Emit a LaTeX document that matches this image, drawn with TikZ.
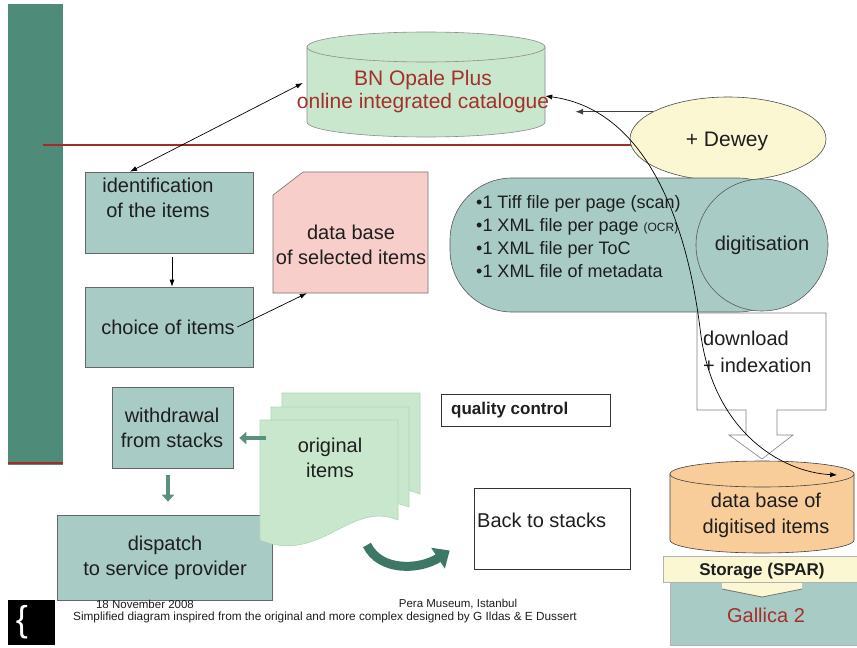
\documentclass[tikz,border=0pt]{standalone}
\usepackage{fontspec}
\setmainfont{Liberation Sans}
\usetikzlibrary{shapes.geometric,arrows.meta,calc}
\definecolor{barc}{HTML}{4F8B79}
\definecolor{tealbox}{HTML}{A8CBC5}
\definecolor{lgreen}{HTML}{C9E7CD}
\definecolor{docedge}{HTML}{B2D6B6}
\definecolor{pinkc}{HTML}{F7CEC9}
\definecolor{yel}{HTML}{FBF7D3}
\definecolor{orng}{HTML}{F9CD9A}
\definecolor{dred}{HTML}{A2302B}
\definecolor{rline}{HTML}{A52A2A}
\definecolor{darkt}{HTML}{3D7866}
\definecolor{blockc}{HTML}{5B8F80}
\definecolor{txtc}{HTML}{1E1E1E}
\newcommand\fsz[2]{\fontsize{#1}{#2}\selectfont}
\newcommand\drawcyl[7]{%
 \filldraw[fill=#6, draw=#7, line width=0.6pt] ({#1-#4},#2) -- ({#1-#4},#3) .. controls ({#1-#4},{#3+0.5523*#5}) and ({#1-0.5523*#4},{#3+#5}) .. (#1,{#3+#5}) .. controls ({#1+0.5523*#4},{#3+#5}) and ({#1+#4},{#3+0.5523*#5}) .. ({#1+#4},#3) -- ({#1+#4},#2) -- cycle;
 \filldraw[fill=#6, draw=#7, line width=0.6pt] (#1,#2) ellipse ({#4} and {#5});}
\begin{document}
\begin{tikzpicture}[x=1pt,y=-1pt,
  box/.style={draw=black!60, fill=tealbox, line width=0.6pt, inner sep=0pt},
  hold/.style={draw=none, inner sep=0pt},
  txt/.style={text=txtc, font=\fsz{20}{25}, align=center, inner sep=0pt},
  arr/.style={-{Latex[length=7pt,width=5pt]}, line width=0.7pt, black},
  darr/.style={{Latex[length=7pt,width=5pt]}-{Latex[length=7pt,width=5pt]}, line width=0.7pt, black},
  blockarr/.style={-{Triangle[length=7pt,width=12pt]}, line width=4pt, blockc},
  docst/.style={fill=lgreen, draw=docedge, line width=0.6pt}]
\useasboundingbox (0,0) rectangle (857,648);
\fill[white] (0,0) rectangle (857,648);

% left bar and red rules
\fill[barc] (8,4) rectangle (63,465);
\draw[rline, line width=1.2pt] (8,463) -- (63,463);
\draw[rline, line width=1.2pt] (43,145) -- (640,145);

% catalogue cylinder
\drawcyl{426}{47}{122}{119}{15}{lgreen}{black!45}
\node[hold, minimum width=238pt, minimum height=105pt] (cat) at (426,90) {};
\node[txt, text=dred, font=\fsz{21}{23}] (catt) at (423,91.5) {BN Opale Plus\\online integrated catalogue};

% Dewey
\node[ellipse, draw=black!70, fill=yel, line width=0.6pt, minimum width=196pt, minimum height=84pt, inner sep=0pt] (dewey) at (728,139) {};
\node[txt, font=\fsz{21}{25}] (deweyt) at (727,141) {+ Dewey};

% identification / choice
\node[box, minimum width=168pt, minimum height=81pt] (id) at (169,212.5) {};
\node[txt] (idt) at (158,197.5) {identification\\of the items};
\node[box, minimum width=168pt, minimum height=80pt] (choice) at (169,327) {};
\node[txt] (choicet) at (168,327) {choice of items};

% data base of selected items
\filldraw[fill=pinkc, draw=black!55, line width=0.6pt] (273,195) -- (303,172) -- (428,172) -- (428,293) -- (273,293) -- cycle;
\node[hold, minimum width=155pt, minimum height=121pt] (seldb) at (350.5,232.5) {};
\node[txt] (seldbt) at (351,244.5) {data base\\of selected items};

% digitisation
\node[draw=black!65, fill=tealbox, line width=0.6pt, rounded corners=62pt, minimum width=350pt, minimum height=134pt, inner sep=0pt] (digbox) at (625,245) {};
\node[circle, draw=black!65, fill=tealbox, line width=0.6pt, minimum size=132pt, inner sep=0pt] (dig) at (762,245) {};
\node[txt] (digt) at (762,245) {digitisation};
\node[txt, anchor=west, align=left, font=\fsz{18}{23}] (bul) at (476,237) {•1 Tiff file per page (scan)\\•1 XML file per page {\fsz{12}{23}(OCR)}\\•1 XML file per ToC\\•1 XML file of metadata};

% download + indexation block arrow
\filldraw[fill=white, draw=black!50, line width=0.6pt] (697,313) -- (826,313) -- (826,410) -- (777,410) -- (777,435) -- (793,435) -- (762,459) -- (729,435) -- (746,435) -- (746,410) -- (697,410) -- cycle;
\node[hold, minimum width=129pt, minimum height=97pt] (dl) at (761.5,361.5) {};
\node[txt, anchor=west, align=left, font=\fsz{20}{27}] (dlt) at (703,351.5) {download\\+ indexation};

% data base of digitised items
\drawcyl{762}{474}{540}{92}{13}{orng}{black!75}
\node[hold, minimum width=184pt, minimum height=92pt] (dbd) at (762,507) {};
\node[txt, font=\fsz{20}{26}] (dbdt) at (766,515) {data base of\\digitised items};

% storage and Gallica
\node[draw=black!30, fill=tealbox, minimum width=187pt, minimum height=63pt, inner sep=0pt] (gal) at (763.5,613.5) {};
\fill[yel] (722,582) -- (802,582) -- (802,589) -- (762,597) -- (722,589) -- cycle;
\draw[black!55, line width=0.8pt] (722,589) -- (762,597) -- (802,589);
\node[draw=black!30, fill=yel, minimum width=194pt, minimum height=26pt, inner sep=0pt] (stor) at (760,569) {};
\node[txt, font=\bfseries\fsz{17}{20}] (stort) at (762,571) {Storage (SPAR)};
\node[txt, text=dred, font=\fsz{20}{24}] (galt) at (766,615) {Gallica 2};

% withdrawal / dispatch
\node[box, minimum width=121pt, minimum height=81pt] (wd) at (172.5,427.5) {};
\node[txt] (wdt) at (172,427.5) {withdrawal\\from stacks};
\node[box, minimum width=215pt, minimum height=85pt] (disp) at (164.5,557.5) {};
\node[txt] (dispt) at (165,557.5) {dispatch\\to service provider};

% original items (stacked documents)
\filldraw[docst] (282,393) -- (420,393) -- (420,494) .. controls (372,474) and (342,539) .. (282,514) -- cycle;
\filldraw[docst] (271,407) -- (409,407) -- (409,507) .. controls (361,487) and (331,552) .. (271,527) -- cycle;
\filldraw[docst] (260,420) -- (398,420) -- (398,520) .. controls (350,500) and (320,565) .. (260,540) -- cycle;
\node[hold, minimum width=138pt, minimum height=100pt] (docs) at (329,470) {};
\node[txt] (docst) at (330,458) {original\\items};

% quality control / back to stacks
\node[draw=black!80, line width=0.6pt, minimum width=169pt, minimum height=32pt, inner sep=0pt] (qc) at (525.5,410) {};
\node[txt, anchor=west, font=\bfseries\fsz{17}{20}] (qct) at (451,410) {quality control};
\node[draw=black!80, line width=0.6pt, minimum width=156pt, minimum height=81pt, inner sep=0pt] (back) at (552,528.5) {};
\node[txt, anchor=west] (backt) at (477,520) {Back to stacks};

% connectors
\draw[darr] ([xshift=-39pt]id.north) -- ([shift={(-4pt,7pt)}]cat.west);
\draw[arr] ([xshift=3pt,yshift=-4pt]id.south) -- ([xshift=3pt]choice.north);
\draw[arr] ([xshift=-16pt]choice.east) -- ([xshift=34pt]seldb.south west);
\draw[-{Latex[length=8pt,width=6pt]}, line width=1.1pt, black!75] (dewey.160) -- ($(cat.east |- dewey.160)+(30pt,0pt)$);
\draw[blockarr] ([shift={(6pt,32pt)}]docs.west) -- ([shift={(6pt,-10.5pt)}]wd.east);
\draw[blockarr] ([shift={(-4.5pt,-7pt)}]wd.south) -- ([shift={(3.5pt,13pt)}]disp.north);
\draw[line width=9pt, darkt, -{Triangle[length=14pt,width=24pt]}] ([shift={(38pt,-75pt)}]docs.center) .. controls (380,572) and (420,570) .. ([shift={(-24pt,-22pt)}]back.west);
\draw[darr] ([yshift=-6pt]cat.east) .. controls (650,110) and (688,230) .. ([shift={(-126pt,-17pt)}]dl.north east) .. controls (712,430) and (780,472) .. ([shift={(-17pt,32pt)}]dbd.east);

% footer
\fill[black] (8,600) rectangle (55,645);
\node[text=white, font=\fsz{36}{36}, inner sep=0pt] (brace) at (22,622) {\{};
\node[txt, font=\fsz{11.5}{13}] (date) at (145,604) {18 November 2008};
\node[txt, font=\fsz{11.5}{13}] (place) at (458,604) {Pera Museum, Istanbul};
\node[txt, font=\fsz{11.8}{13}] (credit) at (325,617) {Simplified diagram inspired from the original and more complex designed by G Ildas \& E Dussert};
\end{tikzpicture}
\end{document}
